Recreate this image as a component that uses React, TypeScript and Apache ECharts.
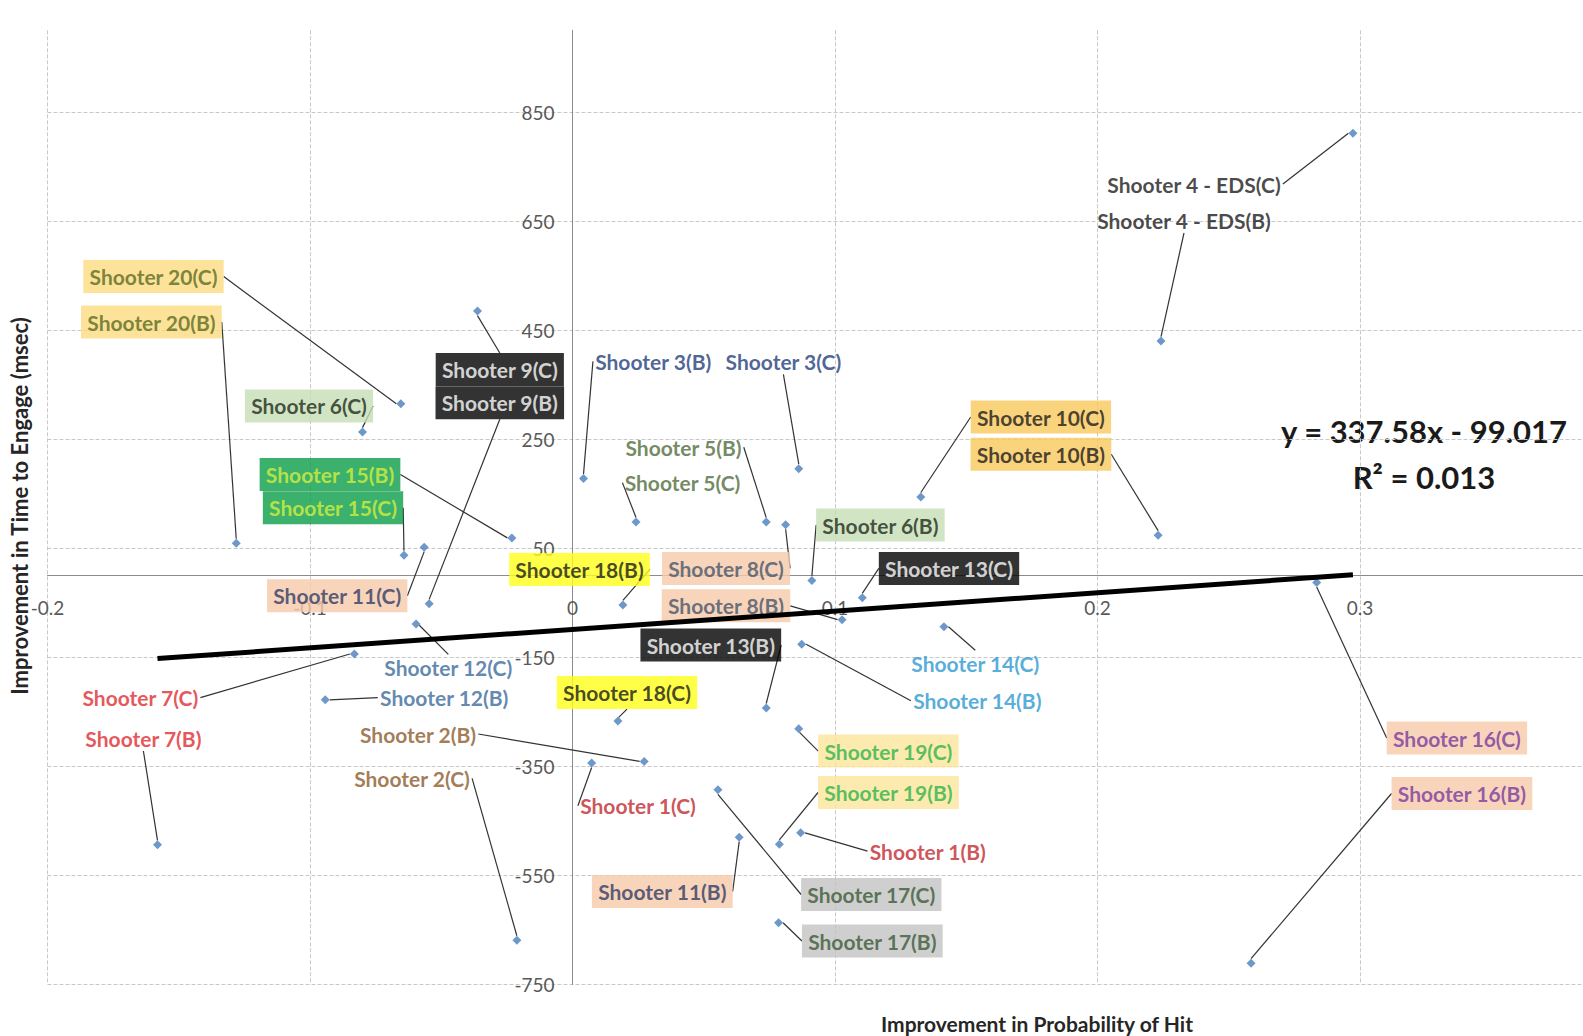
import React, { useEffect, useRef } from "react";
import * as echarts from "echarts";

// ---------------- DATA ----------------
const NAMES = [
  "Shooter 4 - EDS(C)", "Shooter 4 - EDS(B)",
  "Shooter 20(C)", "Shooter 20(B)",
  "Shooter 9(C)", "Shooter 6(C)", "Shooter 9(B)",
  "Shooter 15(B)", "Shooter 15(C)", "Shooter 11(C)",
  "Shooter 12(C)", "Shooter 7(C)", "Shooter 12(B)", "Shooter 7(B)",
  "Shooter 2(B)", "Shooter 2(C)", "Shooter 1(C)",
  "Shooter 18(C)", "Shooter 18(B)",
  "Shooter 3(B)", "Shooter 3(C)", "Shooter 5(B)", "Shooter 5(C)",
  "Shooter 8(C)", "Shooter 6(B)", "Shooter 13(C)", "Shooter 8(B)", "Shooter 13(B)",
  "Shooter 14(C)", "Shooter 14(B)", "Shooter 10(C)", "Shooter 10(B)",
  "Shooter 16(C)", "Shooter 16(B)",
  "Shooter 19(C)", "Shooter 19(B)", "Shooter 1(B)",
  "Shooter 17(C)", "Shooter 11(B)", "Shooter 17(B)",
];

const X_VALUES = [
  0.2973, 0.2242,
  -0.0654, -0.1281,
  -0.0362, -0.08, -0.0546,
  -0.0231, -0.0642, -0.0565,
  -0.0596, -0.0831, -0.0942, -0.1581,
  0.0273, -0.0212, 0.0073,
  0.0173, 0.0192,
  0.0042, 0.0862, 0.0738, 0.0242,
  0.0812, 0.0912, 0.1104, 0.1027, 0.0738,
  0.1415, 0.0873, 0.1327, 0.2231,
  0.2835, 0.2585,
  0.0862, 0.0788, 0.0869,
  0.0554, 0.0635, 0.0785,
];

const Y_VALUES = [
  811, 430,
  315, 59,
  485, 263, -52,
  69, 37, 52,
  -89, -144, -228, -494,
  -341, -669, -344,
  -267, -54,
  178, 196, 98, 98,
  93, -9, -41, -81, -243,
  -94, -126, 144, 74,
  -13, -711,
  -281, -493, -472,
  -393, -480, -637,
];

// Trendline shown on the chart: y = 337.58x - 99.017, R² = 0.013
const TREND_SLOPE = 337.58;
const TREND_INTERCEPT = -99.017;
const EQUATION_LINES = ["y = 337.58x - 99.017", "R² = 0.013"];

const X_MIN = -0.2;
const X_MAX = 0.4;
const X_INTERVAL = 0.1;
const Y_MIN = -750;
const Y_MAX = 1000;
const Y_INTERVAL = 200;

const X_TITLE = "Improvement in Probability of Hit";
const Y_TITLE = "Improvement in Time to Engage (msec)";

// ---------------- STYLES / LAYOUT ----------------
const SHOOTER_STYLE: Record<string, { color: string; bg?: string }> = {
  "1": { color: "#c0282e" },
  "2": { color: "#8b5a2b" },
  "3": { color: "#1f3d7a" },
  "4": { color: "#1a1a1a" },
  "5": { color: "#4f6b3a" },
  "6": { color: "#1e2a1a", bg: "#c5deb5" },
  "7": { color: "#e02a30" },
  "8": { color: "#44546a", bg: "#f6c9aa" },
  "9": { color: "#ffffff", bg: "#000000" },
  "10": { color: "#1a1a1a", bg: "#f9c85c" },
  "11": { color: "#2f3b66", bg: "#f6c9aa" },
  "12": { color: "#3a6a9a" },
  "13": { color: "#ffffff", bg: "#000000" },
  "14": { color: "#2b98d0" },
  "15": { color: "#d6f03c", bg: "#0a9d48" },
  "16": { color: "#7a3aa0", bg: "#f6c9aa" },
  "17": { color: "#3b5a36", bg: "#c3c3c3" },
  "18": { color: "#1a1a1a", bg: "#ffff1a" },
  "19": { color: "#2db34a", bg: "#fde59a" },
  "20": { color: "#5a6a22", bg: "#fbdc80" },
};

// label centre positions in pixels
const LABEL_POS: Record<string, [number, number]> = {
  "Shooter 4 - EDS(C)": [1194, 184],
  "Shooter 4 - EDS(B)": [1184, 220],
  "Shooter 20(C)": [153.5, 276.6],
  "Shooter 20(B)": [151.4, 322],
  "Shooter 9(C)": [499.8, 369.5],
  "Shooter 9(B)": [499.8, 402.8],
  "Shooter 6(C)": [309, 405.9],
  "Shooter 15(B)": [330, 474.5],
  "Shooter 15(C)": [333, 507.8],
  "Shooter 11(C)": [337.2, 595.7],
  "Shooter 12(C)": [448.3, 667.3],
  "Shooter 12(B)": [444.2, 697.6],
  "Shooter 7(C)": [140.3, 697.6],
  "Shooter 7(B)": [143.4, 738],
  "Shooter 2(B)": [418, 734],
  "Shooter 2(C)": [412, 778.4],
  "Shooter 1(C)": [638, 805.7],
  "Shooter 18(C)": [627, 692.6],
  "Shooter 18(B)": [579.5, 569.4],
  "Shooter 3(B)": [653.2, 361.4],
  "Shooter 3(C)": [783.4, 361.4],
  "Shooter 5(B)": [683.5, 447.3],
  "Shooter 5(C)": [682.5, 482.6],
  "Shooter 8(C)": [726, 568.4],
  "Shooter 8(B)": [726, 605.8],
  "Shooter 6(B)": [880.4, 525],
  "Shooter 13(C)": [949, 568.4],
  "Shooter 13(B)": [710.8, 645.1],
  "Shooter 14(C)": [975.3, 663.3],
  "Shooter 14(B)": [977.3, 700.7],
  "Shooter 10(C)": [1040.9, 417],
  "Shooter 10(B)": [1040.9, 454.3],
  "Shooter 16(C)": [1456.9, 738],
  "Shooter 16(B)": [1461.9, 793.5],
  "Shooter 19(C)": [888.4, 751.1],
  "Shooter 19(B)": [888.4, 792.5],
  "Shooter 1(B)": [927.8, 851.1],
  "Shooter 17(C)": [871.3, 894.5],
  "Shooter 17(B)": [872.3, 941],
  "Shooter 11(B)": [662.3, 891.5],
};

const FONT = "Lato";
const GRID_LEFT = 47.5;
const GRID_TOP = 30.3;
const GRID_W = 1575;
const GRID_H = 954.1;

export default function App() {
  const ref = useRef<HTMLDivElement>(null);

  useEffect(() => {
    if (!ref.current) return;
    const chart = echarts.init(ref.current, null, { renderer: "svg" });

    const scatterData = NAMES.map((name, i) => {
      const num = (name.match(/Shooter (\d+)/) || ["", "4"])[1];
      const st = SHOOTER_STYLE[num];
      return {
        name,
        value: [X_VALUES[i], Y_VALUES[i]],
        label: {
          color: st.color,
          backgroundColor: st.bg || "transparent",
          padding: st.bg ? [6, 6, 5, 6] : [2, 2],
        },
      };
    });

    const xLo = Math.min(...X_VALUES);
    const xHi = Math.max(...X_VALUES);
    const trend = [
      [xLo, TREND_SLOPE * xLo + TREND_INTERCEPT],
      [xHi, TREND_SLOPE * xHi + TREND_INTERCEPT],
    ];

    // axes cross at zero: compute offsets from the grid edges
    const zeroYpx = GRID_TOP + (Y_MAX / (Y_MAX - Y_MIN)) * GRID_H;
    const zeroXpx = GRID_LEFT + (-X_MIN / (X_MAX - X_MIN)) * GRID_W;
    const xOffset = -(GRID_TOP + GRID_H - zeroYpx);
    const yOffset = -(zeroXpx - GRID_LEFT);

    const tickColor = "#595959";

    chart.setOption({
      animation: false,
      backgroundColor: "#ffffff",
      grid: {
        left: GRID_LEFT,
        top: GRID_TOP,
        width: GRID_W,
        height: GRID_H,
        containLabel: false,
        outerBoundsMode: "none",
      },
      xAxis: {
        type: "value",
        min: X_MIN,
        max: X_MAX,
        interval: X_INTERVAL,
        position: "bottom",
        offset: xOffset,
        axisLine: { onZero: false, lineStyle: { color: "#8c8c8c", width: 1 } },
        axisTick: { show: false },
        axisLabel: {
          margin: 22,
          color: tickColor,
          fontSize: 19,
          fontFamily: FONT,
          showMaxLabel: false,
          formatter: (v: number) => String(Math.round(v * 10) / 10),
        },
        splitLine: { show: true, lineStyle: { type: "dashed", color: "#c8c8c8", width: 1 } },
      },
      yAxis: {
        type: "value",
        min: Y_MIN,
        max: Y_MAX,
        interval: Y_INTERVAL,
        position: "left",
        offset: yOffset,
        axisLine: { onZero: false, lineStyle: { color: "#8c8c8c", width: 1 } },
        axisTick: { show: false },
        axisLabel: {
          margin: 18,
          color: tickColor,
          fontSize: 19,
          fontFamily: FONT,
          showMaxLabel: false,
        },
        splitLine: {
          show: true,
          showMaxLine: false,
          lineStyle: { type: "dashed", color: "#c8c8c8", width: 1 },
        },
      },
      series: [
        {
          type: "scatter",
          symbol: "diamond",
          symbolSize: 9,
          itemStyle: { color: "#4a7ebb" },
          data: scatterData,
          z: 3,
          label: {
            show: true,
            formatter: "{b}",
            fontFamily: FONT,
            fontWeight: "bold",
            fontSize: 21,
            lineHeight: 22,
          },
          labelLine: { show: true, lineStyle: { color: "#333333", width: 1.2 } },
          labelLayout: (params: any) => {
            const p = LABEL_POS[NAMES[params.dataIndex]];
            return { x: p[0], y: p[1], align: "center", verticalAlign: "middle" };
          },
        },
        {
          type: "line",
          data: trend,
          showSymbol: false,
          symbol: "none",
          lineStyle: { color: "#000000", width: 5 },
          z: 4,
          silent: true,
        },
      ],
      graphic: [
        {
          type: "text",
          x: 1424,
          y: 431,
          style: {
            text: EQUATION_LINES[0],
            fontFamily: FONT,
            fontWeight: "bold",
            fontSize: 31,
            fill: "#1a1a1a",
            align: "center",
            verticalAlign: "middle",
          },
        },
        {
          type: "text",
          x: 1424,
          y: 477,
          style: {
            text: EQUATION_LINES[1],
            fontFamily: FONT,
            fontWeight: "bold",
            fontSize: 31,
            fill: "#1a1a1a",
            align: "center",
            verticalAlign: "middle",
          },
        },
        {
          type: "text",
          x: 19,
          y: 506,
          rotation: Math.PI / 2,
          style: {
            text: Y_TITLE,
            fontFamily: FONT,
            fontWeight: "bold",
            fontSize: 22,
            fill: "#262626",
            align: "center",
            verticalAlign: "middle",
          },
        },
        {
          type: "text",
          x: 1037,
          y: 1023,
          style: {
            text: X_TITLE,
            fontFamily: FONT,
            fontWeight: "bold",
            fontSize: 21,
            fill: "#262626",
            align: "center",
            verticalAlign: "middle",
          },
        },
      ],
    });

    return () => chart.dispose();
  }, []);

  return (
    <div
      ref={ref}
      style={{ position: "absolute", left: 0, top: 0, width: 1583, height: 1036 }}
    />
  );
}
